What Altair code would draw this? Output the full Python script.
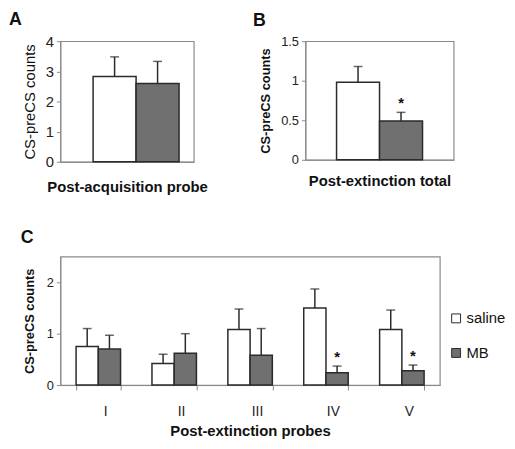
import altair as alt
import pandas as pd

FONT = "Liberation Sans"
groups = ["saline", "MB"]

# Panel A: post-acquisition probe
A_mean = [2.83, 2.60]
A_sem = [0.65, 0.73]

# Panel B: post-extinction total
B_mean = [0.98, 0.49]
B_sem = [0.20, 0.11]
B_sig = ["", "*"]

# Panel C: post-extinction probes
probes = ["I", "II", "III", "IV", "V"]
C_saline = [0.75, 0.42, 1.08, 1.50, 1.08]
C_saline_sem = [0.35, 0.18, 0.40, 0.37, 0.38]
C_mb = [0.70, 0.62, 0.58, 0.24, 0.28]
C_mb_sem = [0.27, 0.38, 0.52, 0.13, 0.11]
C_mb_sig = ["", "", "", "*", "*"]

FILL = ["#ffffff", "#707070"]
EDGE = "#2a2a2a"
GRID = "#8a8a8a"


def panel(df, xscale, xaxis, yscale, yaxis, title, title_offset, title_dx, w, h, legend=None):
    col = alt.Color("group:N", scale=alt.Scale(domain=groups, range=FILL), legend=legend)
    base = alt.Chart(df).encode(
        x=alt.X("cat:N", sort=None, scale=xscale, axis=xaxis),
        xOffset=alt.XOffset("group:N", sort=groups,
                            scale=alt.Scale(domain=groups, paddingInner=0, paddingOuter=0)),
    )
    bars = base.mark_bar(stroke=EDGE, strokeWidth=1.5).encode(
        y=alt.Y("mean:Q", scale=yscale, axis=yaxis), color=col)
    err = base.mark_rule(color=EDGE, strokeWidth=1.5).encode(
        y=alt.Y("mean:Q", scale=yscale, axis=yaxis), y2="upper:Q")
    cap = base.mark_tick(color=EDGE, size=9, thickness=1.5).encode(
        y=alt.Y("upper:Q", scale=yscale, axis=yaxis))
    star = base.mark_text(font=FONT, fontSize=15, fontWeight="bold", baseline="bottom",
                          dy=-1, color="#111").encode(
        y=alt.Y("upper:Q", scale=yscale, axis=yaxis), text="sig:N")
    return alt.layer(bars, err, cap, star).properties(
        width=w, height=h,
        title=alt.TitleParams(title, anchor="start", font=FONT, fontSize=18,
                              fontWeight="bold", offset=title_offset, frame="group",
                              dx=title_dx, color="#111"),
    )


dfA = pd.DataFrame({"cat": ["A"] * 2, "group": groups, "mean": A_mean,
                    "upper": [m + s for m, s in zip(A_mean, A_sem)], "sig": ["", ""]})
dfB = pd.DataFrame({"cat": ["B"] * 2, "group": groups, "mean": B_mean,
                    "upper": [m + s for m, s in zip(B_mean, B_sem)], "sig": B_sig})
rows = []
for i, p in enumerate(probes):
    rows.append({"cat": p, "group": "saline", "mean": C_saline[i],
                 "upper": C_saline[i] + C_saline_sem[i], "sig": ""})
    rows.append({"cat": p, "group": "MB", "mean": C_mb[i],
                 "upper": C_mb[i] + C_mb_sem[i], "sig": C_mb_sig[i]})
dfC = pd.DataFrame(rows)


def xaxis_single(t, pad):
    return alt.Axis(labels=False, ticks=False, title=t, titleFont=FONT, titleFontSize=15,
                    titleFontWeight="bold", titlePadding=pad, titleColor="#111",
                    domainColor=GRID)


def yaxis(vals, fmt, title_bold, label_size, title_size, title_pad):
    return alt.Axis(values=vals, format=fmt, grid=False, title="CS-preCS counts",
                    titleFont=FONT, titleFontSize=title_size,
                    titleFontWeight="bold" if title_bold else "normal",
                    titleColor="#111", titlePadding=title_pad,
                    labelFont=FONT, labelFontSize=label_size, labelColor="#222",
                    labelOverlap=False,
                    tickColor=GRID, tickSize=4, domainColor=GRID, labelPadding=3)


chartA = panel(dfA,
               alt.Scale(paddingInner=0, paddingOuter=0.276, align=0.69),
               xaxis_single("Post-acquisition probe", 18),
               alt.Scale(domain=[0, 4]),
               yaxis([0, 1, 2, 3, 4], "d", False, 15, 15, 8),
               "A", 5, -52, 135, 122)

chartB = panel(dfB,
               alt.Scale(paddingInner=0, paddingOuter=0.362),
               xaxis_single("Post-extinction total", 14),
               alt.Scale(domain=[0, 1.5]),
               yaxis([0, 0.5, 1, 1.5], "", True, 13, 13, 8),
               "B", 5, -53, 150, 120)

legend = alt.Legend(title=None, orient="none", legendX=393, legendY=55,
                    labelFont=FONT, labelFontSize=15, labelColor="#111",
                    symbolType="square", symbolSize=81, symbolStrokeColor=EDGE,
                    symbolStrokeWidth=1, rowPadding=19, labelOffset=3, padding=0)

chartC = panel(dfC,
               alt.Scale(domain=probes, paddingInner=0.414, paddingOuter=0.207),
               alt.Axis(title="Post-extinction probes", titleFont=FONT, titleFontSize=15,
                        titleFontWeight="bold", titleColor="#111", titlePadding=5,
                        labelFont=FONT, labelFontSize=14, labelColor="#222", labelAngle=0,
                        labelPadding=15, labelOffset=7, tickBand="extent", tickColor=GRID,
                        tickSize=5, domainColor=GRID),
               alt.Scale(domain=[0, 2.5]),
               yaxis([0, 1, 2], "d", True, 13, 13, 10),
               "C", 10, -40, 384, 130, legend=legend)

top = alt.hconcat(chartA, chartB, spacing=44).resolve_scale(
    xOffset="independent", color="independent")
chart = alt.vconcat(top, chartC, spacing=33).resolve_scale(
    xOffset="independent", color="independent"
).configure(padding=0, background="white").configure_view(
    stroke=GRID, strokeWidth=1.2
).configure_axis(labelOverlap=False)

chart.save("out.html", embed_options={"renderer": "svg", "actions": False})
